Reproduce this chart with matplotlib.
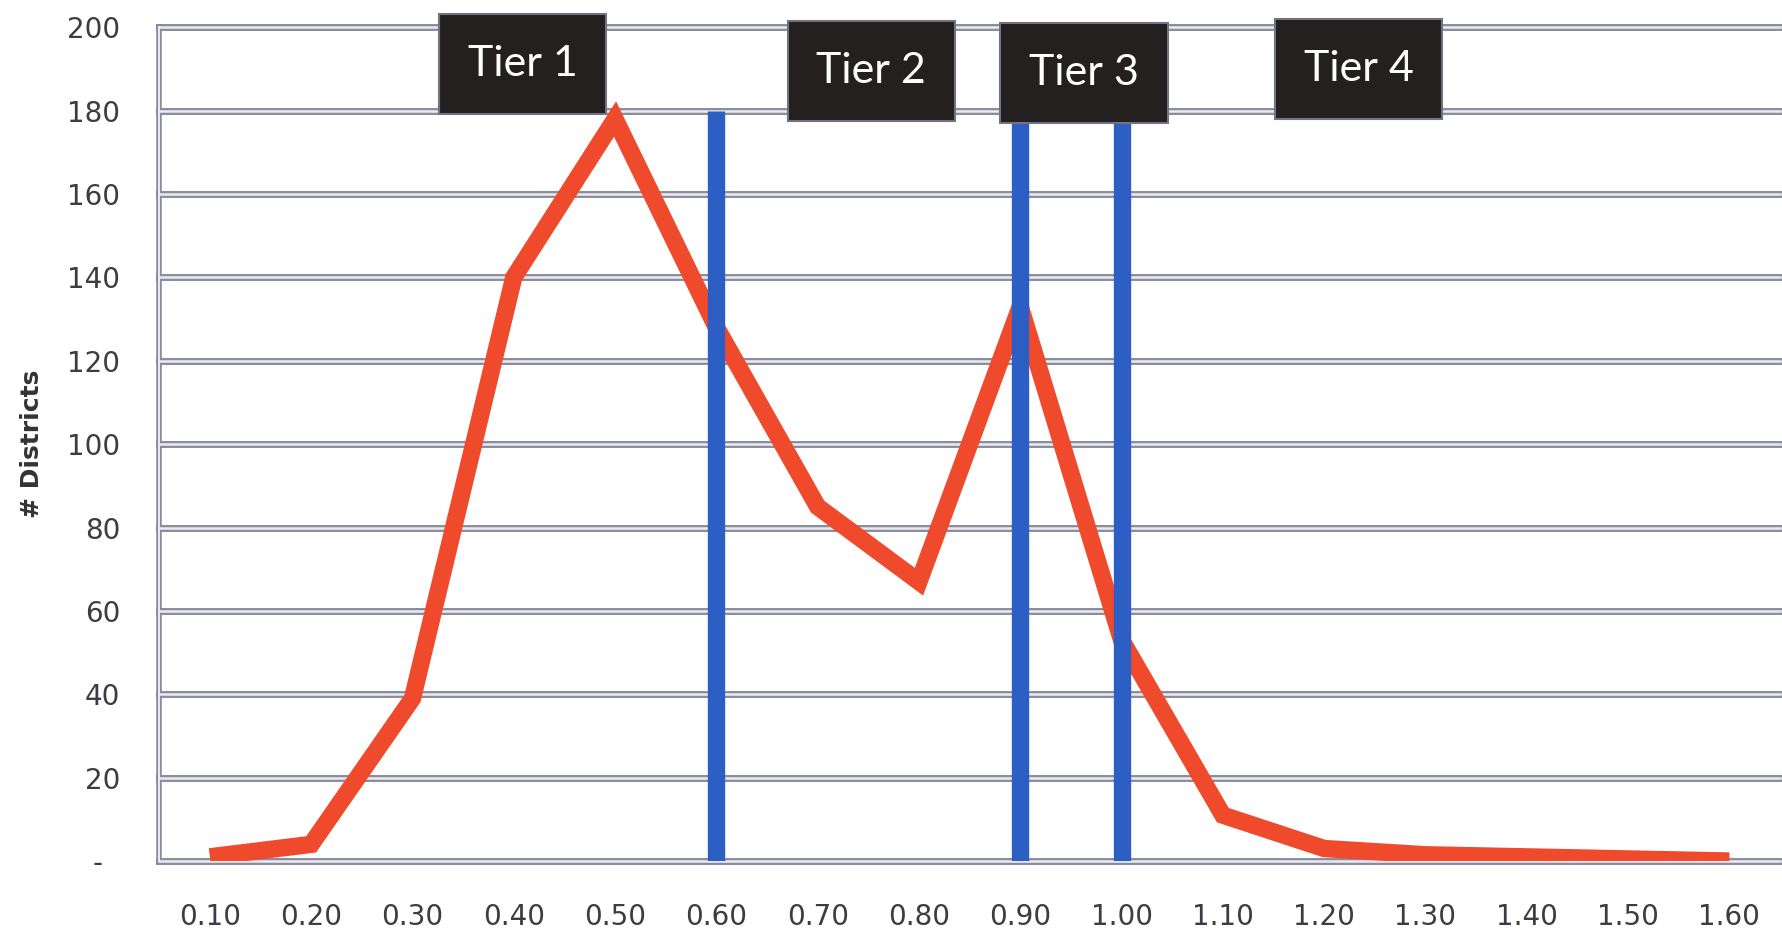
import matplotlib.pyplot as plt
from matplotlib.patches import Rectangle

# Data
bins = ["0.10", "0.20", "0.30", "0.40", "0.50", "0.60", "0.70", "0.80",
        "0.90", "1.00", "1.10", "1.20", "1.30", "1.40", "1.50", "1.60"]
districts = [1, 4, 39, 140, 178, 128, 85, 67, 133, 53, 11, 3, 1.5, 1, 0.5, 0]
cutoffs = ["0.60", "0.90", "1.00"]
cutoff_top = 180
tiers = ["Tier 1", "Tier 2", "Tier 3", "Tier 4"]
yticks = [0, 20, 40, 60, 80, 100, 120, 140, 160, 180, 200]
ytick_labels = ["-  "] + [str(v) for v in yticks[1:]]

x = list(range(len(bins)))

fig = plt.figure(figsize=(17.83, 9.41), dpi=100)
ax = fig.add_axes([0.0893, 0.085, 0.909, 0.886])

# double gray gridlines (scanned Excel look)
for v in yticks:
    ax.axhline(v, color="#8a8c9c", lw=5.0, zorder=1, clip_on=False)
    ax.axhline(v, color="#ecebf3", lw=1.8, zorder=1.1, clip_on=False)
ax.axvline(-0.5, color="#8a8c9c", lw=4.0, zorder=1, clip_on=False)
ax.axvline(-0.5, color="#ecebf3", lw=1.4, zorder=1.1, clip_on=False)

ax.plot(x, districts, color="#EF4A2C", lw=12.5, zorder=3,
        solid_joinstyle="miter", solid_capstyle="butt")

cut_x = [bins.index(c) for c in cutoffs]
ax.vlines(cut_x, 0, cutoff_top, color="#2D5EC3", lw=12.5, zorder=4)

# tier labels
tier_pos = [(3.09, 191.3), (6.53, 189.6), (8.63, 189.1), (11.34, 189.9)]
bw, bh = 1.65, 24
for name, (cx, cy) in zip(tiers, tier_pos):
    ax.add_patch(Rectangle((cx - bw / 2, cy - bh / 2), bw, bh,
                           facecolor="#242020", edgecolor="#6f7480", lw=1.5,
                           zorder=5, clip_on=False))
    ax.text(cx, cy, name, color="white", fontsize=31, family="Lato",
            ha="center", va="center", zorder=6, clip_on=False)

ax.set_xlim(-0.5, len(bins) - 0.5)
ax.set_ylim(0, 200)
ax.set_xticks(x)
ax.set_xticklabels(bins)
ax.set_yticks(yticks)
ax.set_yticklabels(ytick_labels)
ax.tick_params(axis="both", length=0, labelsize=20, labelcolor="#3c3c44")
ax.tick_params(axis="y", pad=28)
ax.tick_params(axis="x", pad=30)
for s in ax.spines.values():
    s.set_visible(False)

fig.text(0.018, 0.528, "# Districts", rotation=90, fontsize=18,
         fontweight="bold", color="#333333", ha="center", va="center")

fig.savefig("out.png", dpi=100, facecolor="white")
